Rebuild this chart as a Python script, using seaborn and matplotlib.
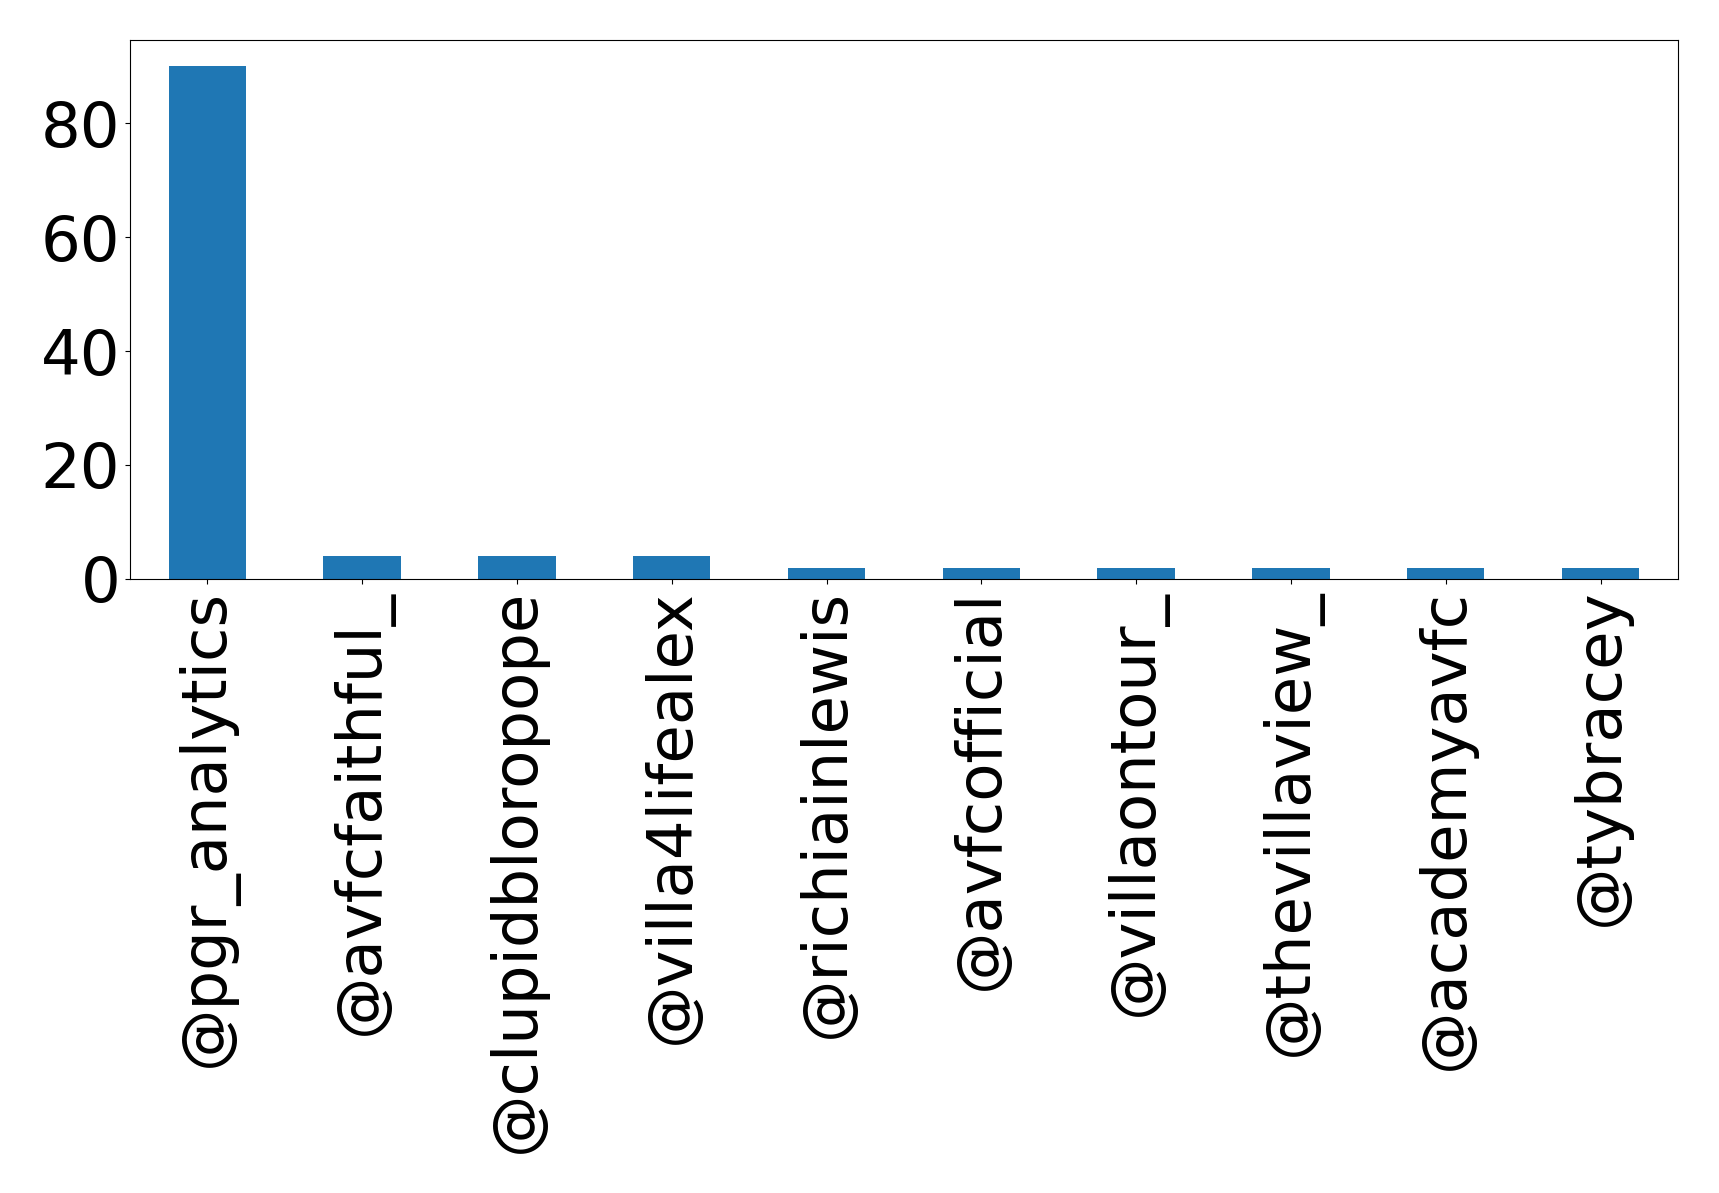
import pandas as pd
import matplotlib
matplotlib.use("Agg")
import matplotlib.pyplot as plt
from matplotlib.ticker import MultipleLocator
import seaborn as sns

accounts = ['@pgr_analytics', '@avfcfaithful_', '@clupidbloropope', '@villa4lifealex',
            '@richiainlewis', '@avfcofficial', '@villaontour_', '@thevillaview_',
            '@academyavfc', '@tybracey']
counts = [90, 4, 4, 4, 2, 2, 2, 2, 2, 2]

df = pd.DataFrame({'account': accounts, 'count': counts})

fig = plt.figure(figsize=(17.19, 11.93), dpi=100)
ax = fig.add_axes([0.0756, 0.5147, 0.9005, 0.4514])
sns.barplot(data=df, x='account', y='count', color='#1f77b4', saturation=1,
            width=0.5, linewidth=0, ax=ax)
ax.set_xlim(-0.5, len(accounts) - 0.5)
ax.set_ylim(0, 94.5)
ax.yaxis.set_major_locator(MultipleLocator(20))
ax.set_xlabel('')
ax.set_ylabel('')
ax.tick_params(axis='both', labelsize=45)
plt.xticks(rotation=90)
fig.savefig('out.png', dpi=100)
